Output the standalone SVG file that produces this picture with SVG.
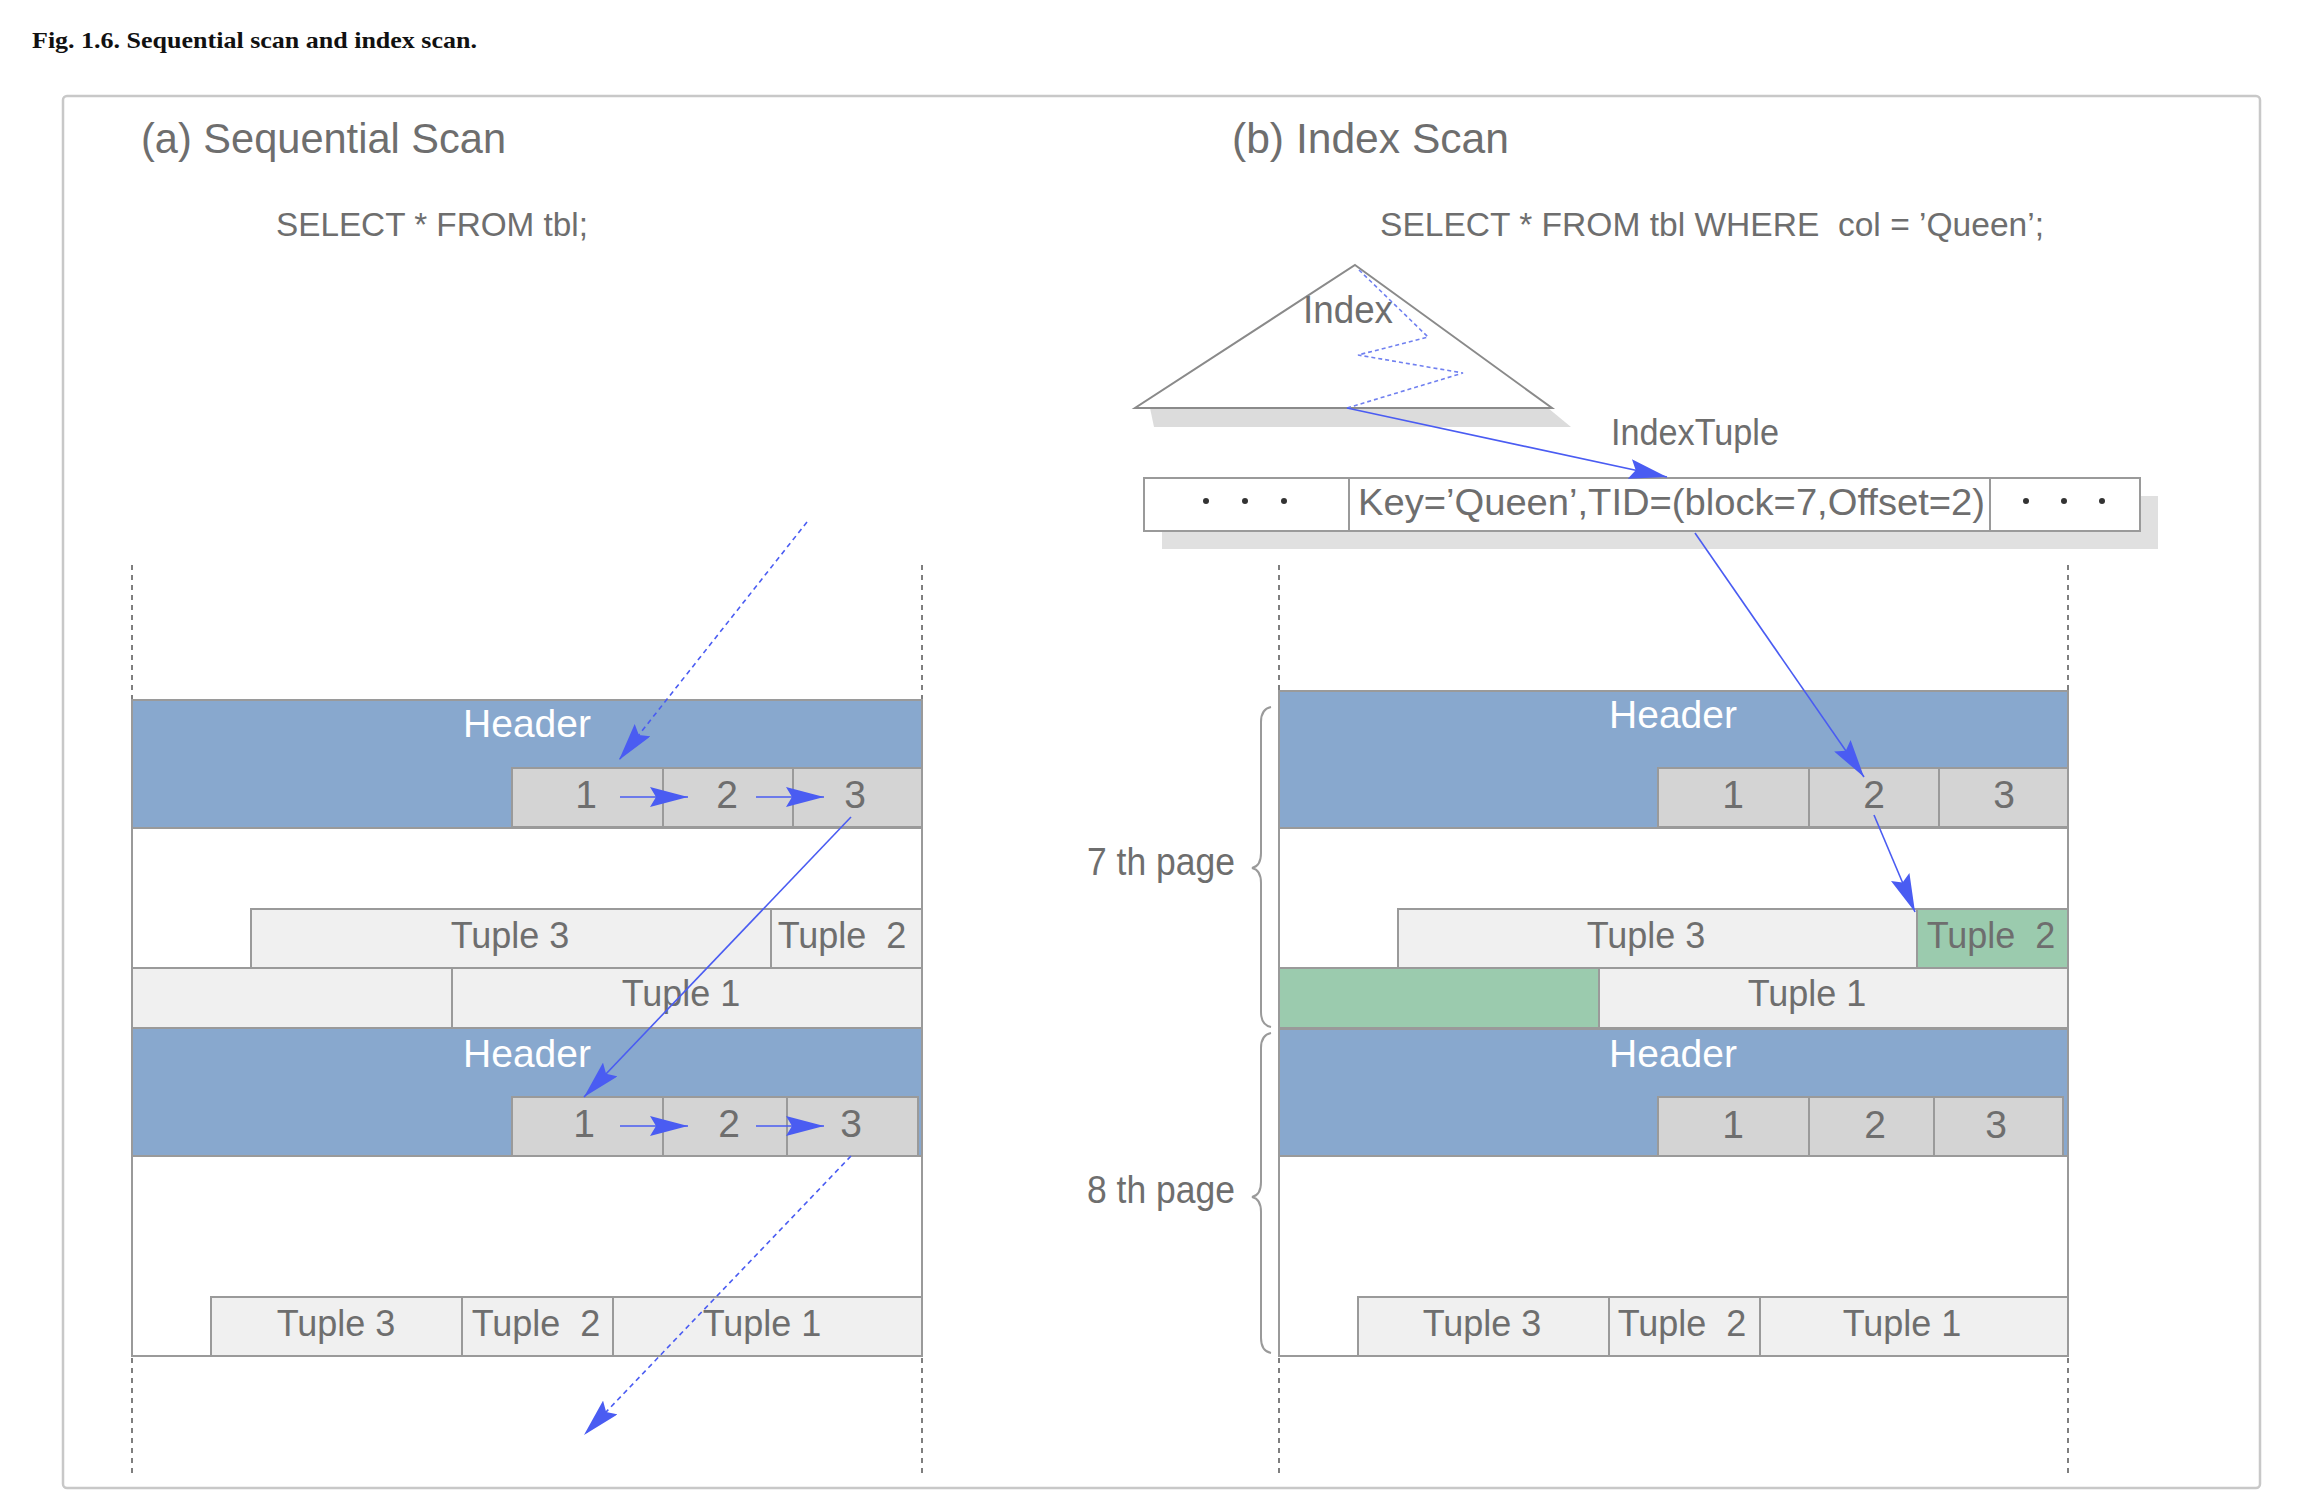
<svg xmlns="http://www.w3.org/2000/svg" width="2306" height="1512" viewBox="0 0 2306 1512">
<defs>
<style>
.t{font-family:"Liberation Sans",Arial,sans-serif;fill:#6e6e6e}
.ttl{font-size:42px}
.sql{font-size:34px}
.hd{font-size:39px;fill:#ffffff;text-anchor:middle}
.num{font-size:39px;text-anchor:middle}
.tp{font-size:36px;text-anchor:middle}
.hdr{fill:#88a8ce;stroke:#9a9a9a;stroke-width:2}
.slot{fill:#d4d4d4;stroke:#9a9a9a;stroke-width:2}
.body{fill:#ffffff;stroke:#9a9a9a;stroke-width:2}
.tup{fill:#f0f0f0;stroke:#9a9a9a;stroke-width:2}
.grn{fill:#9bcbae;stroke:#9a9a9a;stroke-width:2}
.div{stroke:#9a9a9a;stroke-width:2}
.guide{stroke:#555555;stroke-width:1.5;stroke-dasharray:5 5;fill:none}
.arr{stroke:#4a5cf2;stroke-width:1.6;fill:none;marker-end:url(#ah)}
.dash{stroke-dasharray:5 4}
.brace{fill:none;stroke:#9a9a9a;stroke-width:2}
</style>
<marker id="ah" markerUnits="userSpaceOnUse" viewBox="0 0 38 20" refX="38" refY="10" markerWidth="38" markerHeight="20" orient="auto">
<path d="M0,0 L38,10 L0,20 L6,10 z" fill="#4a5cf2"/>
</marker>
</defs>
<rect width="2306" height="1512" fill="#ffffff"/>
<text x="32" y="48" font-family="'Liberation Serif','Times New Roman',serif" font-weight="bold" font-size="24" fill="#111" textLength="445" lengthAdjust="spacingAndGlyphs">Fig. 1.6. Sequential scan and index scan.</text>
<rect id="frame" x="63" y="96" width="2197" height="1392" rx="4" fill="#ffffff" stroke="#c8c8c8" stroke-width="2.5"/>

<g id="titles">
<text class="t ttl" x="141" y="153" textLength="365" lengthAdjust="spacingAndGlyphs">(a) Sequential Scan</text>
<text class="t ttl" x="1232" y="153" textLength="277" lengthAdjust="spacingAndGlyphs">(b) Index Scan</text>
<text class="t sql" x="276" y="236" textLength="312" lengthAdjust="spacingAndGlyphs">SELECT * FROM tbl;</text>
<text class="t sql" x="1380" y="236" textLength="664" lengthAdjust="spacingAndGlyphs" xml:space="preserve">SELECT * FROM tbl WHERE  col = ’Queen’;</text>
</g>

<g id="guides">
<line class="guide" x1="132" y1="565" x2="132" y2="699"/>
<line class="guide" x1="922" y1="565" x2="922" y2="699"/>
<line class="guide" x1="132" y1="1358" x2="132" y2="1475"/>
<line class="guide" x1="922" y1="1358" x2="922" y2="1475"/>
<line class="guide" x1="1279" y1="565" x2="1279" y2="690"/>
<line class="guide" x1="2068" y1="565" x2="2068" y2="690"/>
<line class="guide" x1="1279" y1="1358" x2="1279" y2="1475"/>
<line class="guide" x1="2068" y1="1358" x2="2068" y2="1475"/>
</g>

<!-- Left: page 1 -->
<g id="seq-page1">
<rect class="body" x="132" y="828" width="790" height="200"/>
<rect class="hdr" x="132" y="700" width="790" height="128"/>
<text class="t hd" x="527" y="737">Header</text>
<rect class="slot" x="512" y="768" width="410" height="59"/>
<line class="div" x1="663" y1="768" x2="663" y2="827"/>
<line class="div" x1="793" y1="768" x2="793" y2="827"/>
<text class="t num" x="586" y="808">1</text>
<text class="t num" x="727" y="808">2</text>
<text class="t num" x="855" y="808">3</text>
<rect class="tup" x="251" y="909" width="520" height="59"/>
<rect class="tup" x="771" y="909" width="151" height="59"/>
<rect class="tup" x="132" y="968" width="320" height="60"/>
<rect class="tup" x="452" y="968" width="470" height="60"/>
<text class="t tp" x="510" y="948">Tuple 3</text>
<text class="t tp" x="842" y="948" xml:space="preserve">Tuple  2</text>
<text class="t tp" x="681" y="1006">Tuple 1</text>
</g>

<!-- Left: page 2 -->
<g id="seq-page2">
<rect class="body" x="132" y="1156" width="790" height="200"/>
<rect class="hdr" x="132" y="1028" width="790" height="128"/>
<text class="t hd" x="527" y="1067">Header</text>
<rect class="slot" x="512" y="1097" width="406" height="59"/>
<line class="div" x1="663" y1="1097" x2="663" y2="1156"/>
<line class="div" x1="787" y1="1097" x2="787" y2="1156"/>
<text class="t num" x="584" y="1137">1</text>
<text class="t num" x="729" y="1137">2</text>
<text class="t num" x="851" y="1137">3</text>
<rect class="tup" x="211" y="1297" width="251" height="59"/>
<rect class="tup" x="462" y="1297" width="151" height="59"/>
<rect class="tup" x="613" y="1297" width="309" height="59"/>
<text class="t tp" x="336" y="1336">Tuple 3</text>
<text class="t tp" x="536" y="1336" xml:space="preserve">Tuple  2</text>
<text class="t tp" x="762" y="1336">Tuple 1</text>
</g>

<!-- Right: index -->
<g id="index">
<polygon points="1150,408 1548,408 1571,427 1154,427" fill="#dcdcdc"/>
<polygon points="1355,265 1552,408 1135,408" fill="#ffffff" stroke="#8a8a8a" stroke-width="2"/>
<text class="t" x="1303" y="323" font-size="39" textLength="90" lengthAdjust="spacingAndGlyphs">Index</text>
<polyline points="1359,270 1428,337 1358,355 1463,373 1347,408" fill="none" stroke="#7080f0" stroke-width="1.6" stroke-dasharray="4 3"/>
</g>

<g id="index-tuple">
<text class="t" x="1611" y="445" font-size="36" textLength="168" lengthAdjust="spacingAndGlyphs">IndexTuple</text>
<rect x="1162" y="496" width="996" height="53" fill="#e0e0e0"/>
<rect x="1144" y="478" width="996" height="53" fill="#ffffff" stroke="#9a9a9a" stroke-width="2"/>
<line class="div" x1="1349" y1="478" x2="1349" y2="531"/>
<line class="div" x1="1990" y1="478" x2="1990" y2="531"/>
<g fill="#333">
<circle cx="1206" cy="501" r="3"/><circle cx="1245" cy="501" r="3"/><circle cx="1284" cy="501" r="3"/>
<circle cx="2026" cy="501" r="3"/><circle cx="2064" cy="501" r="3"/><circle cx="2102" cy="501" r="3"/>
</g>
<text class="t" x="1358" y="515" font-size="37" textLength="627" lengthAdjust="spacingAndGlyphs">Key=’Queen’,TID=(block=7,Offset=2)</text>
</g>

<!-- Right: page 7 -->
<g id="idx-page7">
<rect class="body" x="1279" y="828" width="789" height="200"/>
<rect class="hdr" x="1279" y="691" width="789" height="137"/>
<text class="t hd" x="1673" y="728">Header</text>
<rect class="slot" x="1658" y="768" width="410" height="59"/>
<line class="div" x1="1809" y1="768" x2="1809" y2="827"/>
<line class="div" x1="1939" y1="768" x2="1939" y2="827"/>
<text class="t num" x="1733" y="808">1</text>
<text class="t num" x="1874" y="808">2</text>
<text class="t num" x="2004" y="808">3</text>
<rect class="tup" x="1398" y="909" width="519" height="59"/>
<rect class="grn" x="1917" y="909" width="151" height="59"/>
<rect class="grn" x="1279" y="968" width="320" height="60"/>
<rect class="tup" x="1599" y="968" width="469" height="60"/>
<text class="t tp" x="1646" y="948">Tuple 3</text>
<text class="t tp" x="1991" y="948" xml:space="preserve">Tuple  2</text>
<text class="t tp" x="1807" y="1006">Tuple 1</text>
</g>

<!-- Right: page 8 -->
<g id="idx-page8">
<rect class="body" x="1279" y="1156" width="789" height="200"/>
<rect class="hdr" x="1279" y="1029" width="789" height="127"/>
<text class="t hd" x="1673" y="1067">Header</text>
<rect class="slot" x="1658" y="1097" width="405" height="59"/>
<line class="div" x1="1809" y1="1097" x2="1809" y2="1156"/>
<line class="div" x1="1934" y1="1097" x2="1934" y2="1156"/>
<text class="t num" x="1733" y="1138">1</text>
<text class="t num" x="1875" y="1138">2</text>
<text class="t num" x="1996" y="1138">3</text>
<rect class="tup" x="1358" y="1297" width="251" height="59"/>
<rect class="tup" x="1609" y="1297" width="151" height="59"/>
<rect class="tup" x="1760" y="1297" width="308" height="59"/>
<text class="t tp" x="1482" y="1336">Tuple 3</text>
<text class="t tp" x="1682" y="1336" xml:space="preserve">Tuple  2</text>
<text class="t tp" x="1902" y="1336">Tuple 1</text>
</g>

<g id="page-labels">
<text class="t" x="1087" y="875" font-size="38" textLength="148" lengthAdjust="spacingAndGlyphs">7 th page</text>
<path class="brace" d="M1271,707 Q1261,709 1261,722 L1261,853 Q1261,866 1252,868 Q1261,870 1261,883 L1261,1012 Q1261,1025 1271,1027"/>
<text class="t" x="1087" y="1203" font-size="38" textLength="148" lengthAdjust="spacingAndGlyphs">8 th page</text>
<path class="brace" d="M1271,1033 Q1261,1035 1261,1048 L1261,1182 Q1261,1195 1252,1197 Q1261,1199 1261,1212 L1261,1338 Q1261,1351 1271,1353"/>
</g>

<g id="connectors">
<line class="arr dash" x1="807" y1="522" x2="619" y2="760"/>
<line class="arr" x1="620" y1="797" x2="688" y2="797"/>
<line class="arr" x1="756" y1="797" x2="824" y2="797"/>
<line class="arr" x1="851" y1="817" x2="584" y2="1097"/>
<line class="arr" x1="620" y1="1126" x2="688" y2="1126"/>
<line class="arr" x1="756" y1="1126" x2="824" y2="1126"/>
<line class="arr dash" x1="851" y1="1156" x2="584" y2="1435"/>
<line class="arr" x1="1347" y1="408" x2="1667" y2="477"/>
<line class="arr" x1="1695" y1="533" x2="1864" y2="777"/>
<line class="arr" x1="1874" y1="815" x2="1915" y2="912"/>
</g>
</svg>
